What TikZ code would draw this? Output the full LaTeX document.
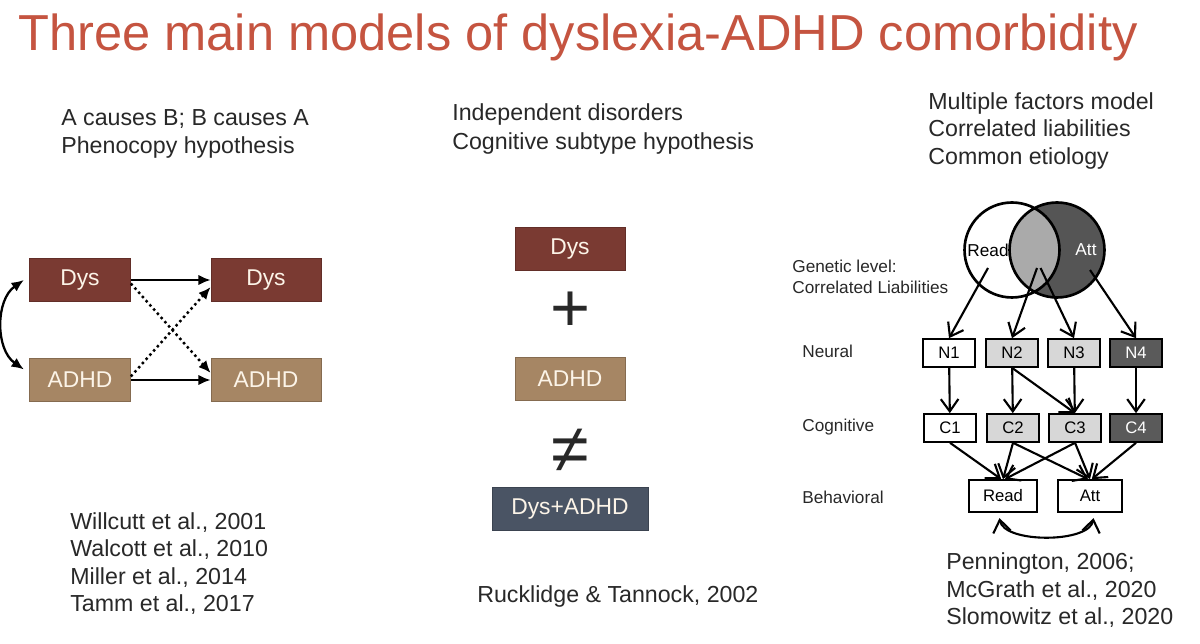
\documentclass[tikz,border=0pt]{standalone}
\usepackage{fontspec}
\setmainfont{Liberation Sans}
\usetikzlibrary{arrows.meta,positioning}
\definecolor{titlered}{RGB}{197,84,64}
\definecolor{dysred}{RGB}{122,58,50}
\definecolor{adhdtan}{RGB}{166,134,100}
\definecolor{bothslate}{RGB}{74,84,100}
\definecolor{boxtext}{RGB}{252,244,232}
\definecolor{txtgray}{RGB}{40,40,40}
\definecolor{vennlight}{RGB}{170,170,170}
\definecolor{venndark}{RGB}{85,85,85}
\definecolor{boxlight}{RGB}{215,215,215}
\definecolor{boxdark}{RGB}{90,90,90}
\begin{document}
\begin{tikzpicture}[x=0.02cm,y=-0.02cm,>={Latex[length=7pt,width=6pt]},
  txt/.style={anchor=base west,inner sep=0pt,text=txtgray,font=\fontsize{13.2}{16}\selectfont},
  small/.style={anchor=base west,inner sep=0pt,text=txtgray,font=\fontsize{9.8}{12}\selectfont},
  dxbox/.style={draw=#1!80!black,fill=#1,text=boxtext,minimum height=0.86cm,inner sep=0pt,font=\fontsize{13}{15}\selectfont},
  lvbox/.style={draw,line width=1.2pt,minimum width=1.03cm,minimum height=0.55cm,inner sep=0pt,font=\fontsize{9.5}{11}\selectfont},
  lvarr/.style={-{Straight Barb[length=7pt,width=10pt]},line width=1.2pt},
  lvboth/.style={{Straight Barb[length=7pt,width=10pt]}-{Straight Barb[length=7pt,width=10pt]},line width=1.2pt}]
\useasboundingbox (0,0) rectangle (1200,644);
\fill[white] (0,0) rectangle (1200,644);

\node[anchor=base west,inner sep=0pt,text=titlered,font=\fontsize{28.8}{32}\selectfont] (title) at (18,51) {Three main models of dyslexia-ADHD comorbidity};

\node[txt] (modA1) at (61,126) {A causes B; B causes A};
\node[txt] (modA2) at (61,154) {Phenocopy hypothesis};
\node[txt] (modB1) at (452,121) {Independent disorders};
\node[txt] (modB2) at (452,150) {Cognitive subtype hypothesis};
\node[txt] (modC1) at (928,110) {Multiple factors model};
\node[txt] (modC2) at (928,137) {Correlated liabilities};
\node[txt] (modC3) at (928,165) {Common etiology};

\node[txt] (refA1) at (70,530) {Willcutt et al., 2001};
\node[txt] (refA2) at (70,557) {Walcott et al., 2010};
\node[txt] (refA3) at (70,585) {Miller et al., 2014};
\node[txt] (refA4) at (70,612) {Tamm et al., 2017};
\node[txt] (refB) at (477,603) {Rucklidge \& Tannock, 2002};
\node[txt] (refC1) at (946,570) {Pennington, 2006;};
\node[txt] (refC2) at (946,598) {McGrath et al., 2020};
\node[txt] (refC3) at (946,625) {Slomowitz et al., 2020};

\node[dxbox=dysred,minimum width=2.02cm] (dysA) at (80,280) {Dys};
\node[dxbox=adhdtan,minimum width=2.02cm] (adhdA) at (80,380) {ADHD};
\node[dxbox=dysred,minimum width=2.2cm] (dysB) at (266,280) {Dys};
\node[dxbox=adhdtan,minimum width=2.2cm] (adhdB) at (266,380) {ADHD};
\draw[->,line width=1.3pt] (dysA) -- (dysB);
\draw[->,line width=1.3pt] (adhdA) -- (adhdB);
\draw[->,line width=1.4pt,dash pattern=on 1.4pt off 1.8pt] ([yshift=-2pt]dysA.east) -- ([yshift=4pt]adhdB.west);
\draw[->,line width=1.4pt,dash pattern=on 1.4pt off 1.8pt] ([yshift=2pt]adhdA.east) -- ([yshift=-4pt]dysB.west);
\draw[<->,line width=1.3pt] ([xshift=-3pt]dysA.west) to[bend right=55] ([xshift=-3pt,yshift=6pt]adhdA.west);

\node[dxbox=dysred,minimum width=2.2cm] (dysM) at (570,249) {Dys};
\node[inner sep=0pt,text=txtgray,font=\fontsize{39}{40}\selectfont] (plus) at (570,312) {+};
\node[dxbox=adhdtan,minimum width=2.2cm] (adhdM) at (570,379) {ADHD};
\node[inner sep=0pt,text=txtgray,font=\fontsize{39}{40}\selectfont] (neq) at (570,451) {≠};
\node[dxbox=bothslate,minimum width=3.12cm] (both) at (570,509) {Dys+ADHD};

\fill[venndark] (1057,250) circle (0.95cm);
\fill[white] (1012,250) circle (0.95cm);
\begin{scope}
\clip (1012,250) circle (0.95cm);
\fill[vennlight] (1057,250) circle (0.95cm);
\end{scope}
\draw[line width=1.5pt] (1012,250) circle (0.95cm) (1057,250) circle (0.95cm);
\node[font=\fontsize{9.8}{12}\selectfont,inner sep=0pt] (gRead) at (988,250) {Read};
\node[font=\fontsize{9.8}{12}\selectfont,inner sep=0pt,text=white] (gAtt) at (1086,250) {Att};
\coordinate (gR) at (988,268);
\coordinate (gM) at (1037,268);
\coordinate (gA) at (1090,270);

\node[small] (lvGen1) at (792,273) {Genetic level:};
\node[small] (lvGen2) at (792,294) {Correlated Liabilities};
\node[small] (lvNeu) at (802,358) {Neural};
\node[small] (lvCog) at (802,432) {Cognitive};
\node[small] (lvBeh) at (802,504) {Behavioral};

\node[lvbox,fill=white] (n1) at (949,353) {N1};
\node[lvbox,fill=boxlight] (n2) at (1012,353) {N2};
\node[lvbox,fill=boxlight] (n3) at (1074,353) {N3};
\node[lvbox,fill=boxdark,text=white] (n4) at (1136,353) {N4};
\node[lvbox,fill=white] (c1) at (950,428) {C1};
\node[lvbox,fill=boxlight] (c2) at (1013,428) {C2};
\node[lvbox,fill=boxlight] (c3) at (1075,428) {C3};
\node[lvbox,fill=boxdark,text=white] (c4) at (1136,428) {C4};
\node[lvbox,minimum width=1.35cm,minimum height=0.63cm] (bRead) at (1003,496) {Read};
\node[lvbox,minimum width=1.29cm,minimum height=0.63cm] (bAtt) at (1090,496) {Att};

\draw[lvarr] (gR) -- (n1.north);
\draw[lvarr] (gM) -- (n2.north);
\draw[lvarr] ([xshift=2pt]gM) -- (n3.north);
\draw[lvarr] (gA) -- (n4.north);
\foreach \i in {1,...,4}
  \draw[lvarr] (n\i) -- (c\i);
\draw[lvarr] (n2.south) -- (c3.north);
\draw[lvarr] (c1.south) -- ([xshift=-1pt]bRead.north);
\draw[lvarr] (c2.south) -- (bRead.north);
\draw[lvarr] (c3.south) -- ([xshift=1pt]bRead.north);
\draw[lvarr] (c2.south) -- ([xshift=-1pt]bAtt.north);
\draw[lvarr] (c3.south) -- (bAtt.north);
\draw[lvarr] (c4.south) -- ([xshift=1pt]bAtt.north);
\draw[lvboth] ([xshift=-2pt,yshift=-3pt]bRead.south) to[out=-80,in=-100,looseness=0.7] ([xshift=2pt,yshift=-3pt]bAtt.south);
\end{tikzpicture}
\end{document}
